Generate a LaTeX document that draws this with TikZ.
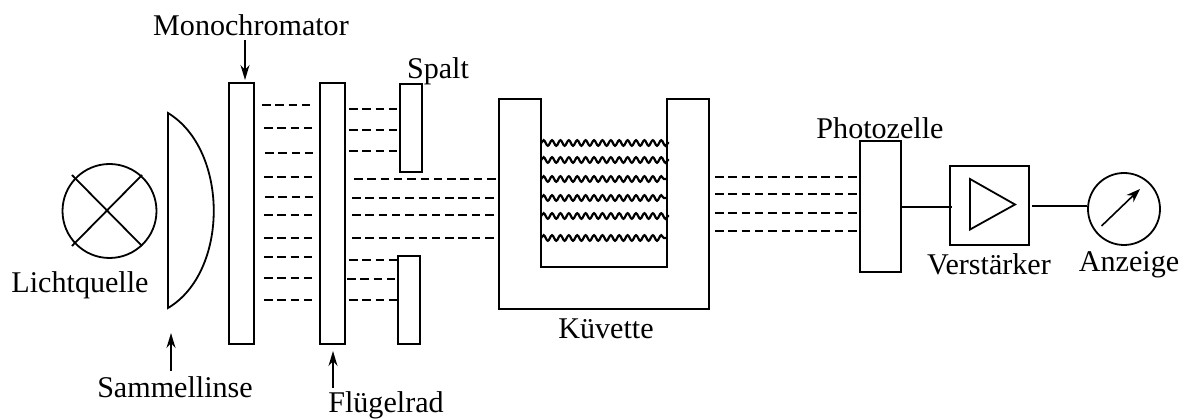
\documentclass[tikz,border=0pt]{standalone}
\usepackage{fontspec}
\setmainfont{Liberation Serif}
\usetikzlibrary{decorations.pathmorphing,arrows.meta}
\begin{document}
\begin{tikzpicture}
  [x=1pt,y=-1pt,line width=1.8pt,
   every node/.style={font=\fontsize{30.1}{33}\selectfont,inner sep=0pt},
   teil/.style={draw,minimum width=#1},
   rund/.style={draw,circle,minimum size=#1},
   strahl/.style={line width=1.5pt,dash pattern=on 8.5pt off 4.8pt},
   welle/.style={line width=2.2pt,decorate,decoration={snake,segment length=8.4pt,amplitude=2.8pt}},
   pfeil/.style={line width=1.6pt,-{Stealth[length=15pt,width=9pt]}}]
  \useasboundingbox (0,0) rectangle (1184,419);

  \node[rund=94pt] (lampe) at (109.5,211) {};
  \draw (72,175) -- (142,246);
  \draw (72,246) -- (142,175);
  \draw (168,113) .. controls (229,150) and (229,272) .. (168,308) -- cycle;

  \node[teil=25pt,minimum height=261pt] (mono) at (241.8,213.5) {};
  \node[teil=25pt,minimum height=261pt] (fluegel) at (332.8,213.5) {};
  \node[teil=22pt,minimum height=88pt] (spalt1) at (411,128) {};
  \node[teil=22pt,minimum height=88pt] (spalt2) at (409,300) {};
  \node[teil=41pt,minimum height=131pt] (photo) at (880.5,206.8) {};
  \node[teil=79pt,minimum height=79pt] (verst) at (989.5,205.5) {};
  \node[rund=72pt] (anz) at (1124,209) {};

  % kuevette
  \draw (499,99) -- (499,309) -- (709,309) -- (709,99) -- (667,99)
     -- (667,267) -- (541,267) -- (541,99) -- cycle;
  \foreach \y/\e in {143/669,160/669,179/667,198/667,216/669,238/667}
     \draw[welle] (541,\y) -- (\e,\y);

  % strahlen
  \foreach \a/\b/\y in {262/314/105,264/316/128,265/318/153,264/316/177,265/318/197,
     264/316/215,264/316/238,264/316/257,264/316/278,264/316/300,
     349/400/109,349/400/130,349/400/151,
     354/498/179,352/498/198,352/498/215,352/498/238,
     349/400/260,347/398/279,349/400/300,
     715/860/177,715/860/194,715/860/213,715/860/231}
     \draw[strahl] (\a,\y) -- (\b,\y);

  % verstaerker
  \draw (970,179) -- (1015,204.5) -- (970,229.5) -- cycle;
  \draw (photo.east |- 0,207) -- (952,207);
  \draw (1032,206) -- (anz.west |- 0,206);
  \draw[line width=1.6pt,-{Stealth[length=14pt,width=10pt]}] (1101.5,226) -- (1140,189);

  % beschriftung
  \node (lmono) at (251,25) {Monochromator};
  \node (lspalt) at (438,71) {Spalt};
  \node (llicht) at (80,285) {Lichtquelle};
  \node (lsammel) at (175,387) {Sammellinse};
  \node (lfluegel) at (386,405) {Flügelrad};
  \node (lkuev) at (606,329) {Küvette};
  \node (lphoto) at (880,128) {Photozelle};
  \node (lverst) at (989,264) {Verstärker};
  \node (lanz) at (1129,265) {Anzeige};

  \coordinate (a1) at (245,40);
  \coordinate (a2) at (171,371);
  \coordinate (a3) at (333,388);
  \draw[pfeil] (a1) -- (245,80);
  \draw[pfeil] (a2) -- (171,333);
  \draw[pfeil] (a3) -- (333,351);
\end{tikzpicture}
\end{document}
